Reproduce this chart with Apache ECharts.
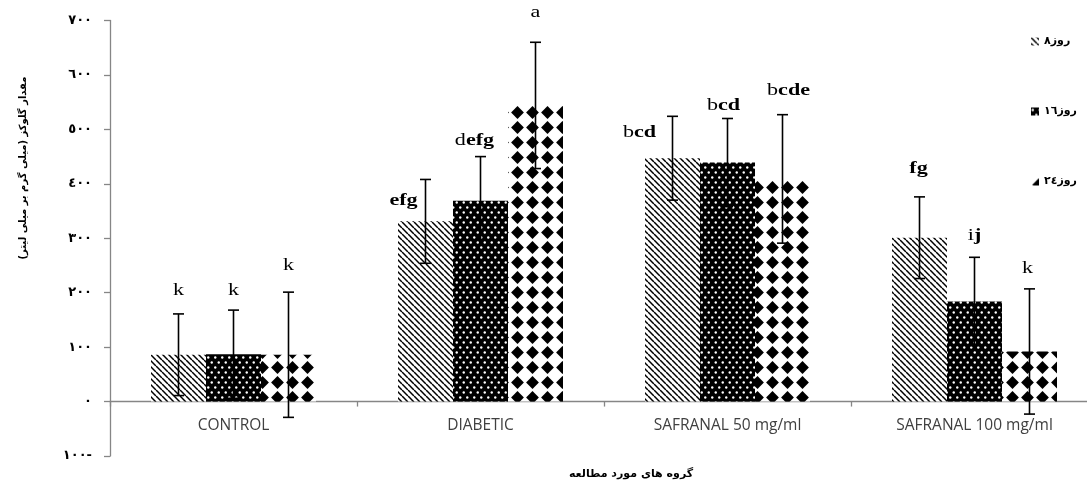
<!DOCTYPE html>
<html><head><meta charset="utf-8">
<script src="https://cdn.jsdelivr.net/npm/echarts@6/dist/echarts.min.js"></script>
<style>html,body{margin:0;padding:0;background:#fff;overflow:hidden}#c{width:1098px;height:484px}</style>
</head><body><div id="c"></div>
<script>
// ---------- data ----------
const categories = ['CONTROL', 'DIABETIC', 'SAFRANAL 50 mg/ml', 'SAFRANAL 100 mg/ml'];
const seriesNames = ['روز٨', 'روز١٦', 'روز٢٤'];
const means8  = [86, 331, 447, 301];
const means16 = [87, 369, 439, 184];
const means24 = [86, 544, 409, 92];
const sd8  = [75, 77, 77, 75];
const sd16 = [81, 81, 81, 81];
const sd24 = [115, 116, 118, 115];
// significance letters: regular part + bold part
const lettersReg8  = ['k', '', 'b', ''];
const lettersBold8 = ['', 'efg', 'cd', 'fg'];
const lettersReg16  = ['k', 'd', 'b', 'i'];
const lettersBold16 = ['', 'efg', 'cd', 'j'];
const lettersReg24  = ['k', 'a', 'b', 'k'];
const lettersBold24 = ['', '', 'cde', ''];
const yTickLabels = ['١٠٠-', '٠', '١٠٠', '٢٠٠', '٣٠٠', '٤٠٠', '٥٠٠', '٦٠٠', '٧٠٠'];
const yAxisTitle = 'مقدار گلوکز (میلی گرم بر میلی لیتر)';
const xAxisTitle = 'گروه های مورد مطالعه';

// ---------- styling ----------
const BAR_W = 55;
const GRID_H = 435.5;
// label offsets (px) relative to the top of each error bar: [dx, dy]
const labelOffsets = [
  [[0, -23], [-22, 21], [-33, 16], [-1, -28]],
  [[0, -20], [-6, -16], [-4, -13], [0, -22]],
  [[0, -27], [0, -30], [6, -24], [-2, -20]]
];

function makeHatch() {
  const P = 6, c = document.createElement('canvas'); c.width = P; c.height = P;
  const g = c.getContext('2d'); g.fillStyle = '#fff'; g.fillRect(0, 0, P, P);
  g.strokeStyle = '#000'; g.lineWidth = 1.5;
  for (const o of [-P, 0, P]) { g.beginPath(); g.moveTo(o, 0); g.lineTo(o + P, P); g.stroke(); }
  return c;
}
function makeDots() {
  const W = 7, H = 10, c = document.createElement('canvas'); c.width = W; c.height = H;
  const g = c.getContext('2d'); g.fillStyle = '#000'; g.fillRect(0, 0, W, H);
  g.fillStyle = '#fff';
  for (const [x, y] of [[1.75, 2.5], [5.25, 7.5]]) { g.beginPath(); g.arc(x, y, 1.2, 0, Math.PI * 2); g.fill(); }
  return c;
}
function makeDiamonds() {
  const P = 15, c = document.createElement('canvas'); c.width = P; c.height = P;
  const g = c.getContext('2d'); g.fillStyle = '#fff'; g.fillRect(0, 0, P, P);
  g.fillStyle = '#000'; const m = P / 2, r = 6.4;
  g.beginPath(); g.moveTo(m, m - r); g.lineTo(m + r, m); g.lineTo(m, m + r); g.lineTo(m - r, m); g.closePath(); g.fill();
  return c;
}
const patterns = [makeHatch(), makeDots(), makeDiamonds()];

const allMeans = [means8, means16, means24];
const allSd = [sd8, sd16, sd24];
const allReg = [lettersReg8, lettersReg16, lettersReg24];
const allBold = [lettersBold8, lettersBold16, lettersBold24];

const barSeries = allMeans.map((m, k) => ({
  name: seriesNames[k], type: 'bar', data: m, barWidth: BAR_W, barGap: '0%',
  itemStyle: { color: { image: patterns[k], repeat: 'repeat' } },
  emphasis: { disabled: true }, z: 2
}));

const errData = [];
allMeans.forEach((m, k) => m.forEach((v, i) => errData.push([i, v, allSd[k][i], k])));

const serif = "'Liberation Serif', 'Times New Roman', serif";
const errSeries = {
  type: 'custom', data: errData, encode: { x: 0, y: 1 }, z: 5, silent: true,
  renderItem(params, api) {
    const i = api.value(0), v = api.value(1), sd = api.value(2), k = api.value(3);
    const top = api.coord([i, v + sd]), bot = api.coord([i, v - sd]);
    const x = top[0] + (k - 1) * BAR_W;
    const ls = { stroke: '#000', lineWidth: 1.6 };
    const reg = allReg[k][i], bold = allBold[k][i];
    let txt = '';
    if (reg) txt += '{r|' + reg + '}';
    if (bold) txt += '{b|' + bold + '}';
    const off = labelOffsets[k][i];
    return {
      type: 'group', children: [
        { type: 'line', shape: { x1: x, y1: top[1], x2: x, y2: bot[1] }, style: ls },
        { type: 'line', shape: { x1: x - 5.5, y1: top[1], x2: x + 5.5, y2: top[1] }, style: ls },
        { type: 'line', shape: { x1: x - 5.5, y1: bot[1], x2: x + 5.5, y2: bot[1] }, style: ls },
        { type: 'text', x: x + off[0], y: top[1] + off[1], scaleX: 1.3,
          style: { text: txt, align: 'center', verticalAlign: 'middle',
            rich: { r: { fontFamily: serif, fontSize: 17, fill: '#000' },
                    b: { fontFamily: serif, fontSize: 17, fontWeight: 'bold', fill: '#000' } } } }
      ]
    };
  }
};

const yMin = -100, yMax = 700;
const chart = echarts.init(document.getElementById('c'), null, { renderer: 'canvas' });
chart.setOption({
  animation: false,
  backgroundColor: '#fff',
  grid: { left: 110, top: 20.5, width: 988, height: GRID_H, containLabel: false },
  legend: {
    orient: 'vertical', left: 1026, top: 31, itemGap: 59, itemWidth: 8, itemHeight: 8,
    icon: 'rect', selectedMode: false, data: seriesNames,
    textStyle: { fontFamily: 'DejaVu Sans', fontWeight: 'bold', fontSize: 11, color: '#000' }
  },
  xAxis: {
    type: 'category', data: categories,
    // place the category axis on the zero line (labels included)
    offset: -GRID_H * (0 - yMin) / (yMax - yMin),
    axisLine: { show: true, onZero: false, lineStyle: { color: '#868686', width: 1.3 } },
    axisTick: { show: true, length: 5, lineStyle: { color: '#868686', width: 1.3 } },
    axisLabel: { color: '#404040', fontFamily: 'Open Sans', fontSize: 15.5, margin: 16 },
    splitLine: { show: false }
  },
  yAxis: {
    type: 'value', min: yMin, max: yMax, interval: 100,
    axisLine: { show: true, lineStyle: { color: '#868686', width: 1.3 } },
    axisTick: { show: true, length: 6, lineStyle: { color: '#868686', width: 1.3 } },
    axisLabel: { color: '#000', fontFamily: 'DejaVu Sans', fontWeight: 'bold', fontSize: 13, margin: 18,
      formatter: v => yTickLabels[Math.round((v - yMin) / 100)] },
    splitLine: { show: false }
  },
  graphic: [
    { type: 'text', x: 23, y: 168, rotation: Math.PI / 2,
      style: { text: yAxisTitle, align: 'center', verticalAlign: 'middle',
        fontFamily: 'DejaVu Sans', fontWeight: 'bold', fontSize: 10, fill: '#000' } },
    { type: 'text', x: 631, y: 474,
      style: { text: xAxisTitle, align: 'center', verticalAlign: 'middle',
        fontFamily: 'DejaVu Sans', fontWeight: 'bold', fontSize: 11, fill: '#000' } }
  ],
  series: [...barSeries, errSeries]
});
</script>
</body></html>
